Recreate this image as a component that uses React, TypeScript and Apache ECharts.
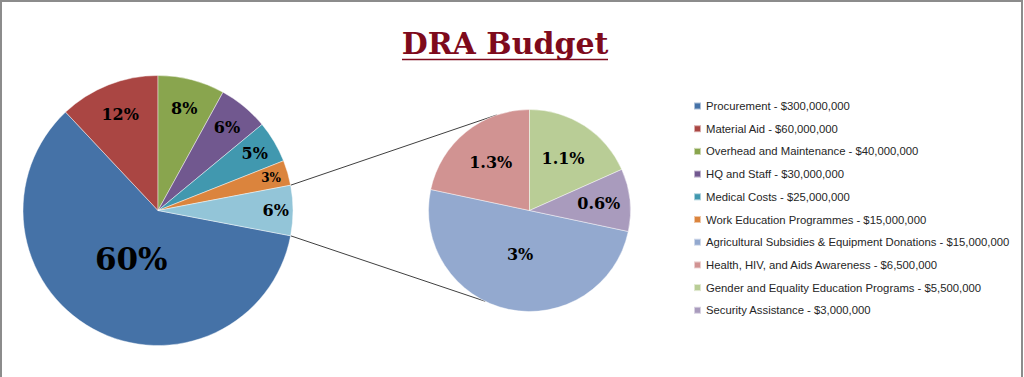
import React, { useEffect, useRef } from "react";
import * as echarts from "echarts";

// ---------- data ----------
const mainNames = [
  "Procurement",
  "Material Aid",
  "Overhead and Maintenance",
  "HQ and Staff",
  "Medical Costs",
  "Work Education Programmes",
];
const mainValues = [300000000, 60000000, 40000000, 30000000, 25000000, 15000000];
const subNames = [
  "Agricultural Subsidies & Equipment Donations",
  "Health, HIV, and Aids Awareness",
  "Gender and Equality Education Programs",
  "Security Assistance",
];
const subValues = [15000000, 6500000, 5500000, 3000000];
const otherName = "Other";
const titleText = "DRA Budget";

// ---------- style ----------
const mainColors = ["#4572A7", "#AA4643", "#89A54E", "#71588F", "#4198AF", "#DB843D"];
const otherColor = "#93C5D8";
const subColors = ["#93A9CF", "#D19392", "#B9CD96", "#A99BBD"];
const titleColor = "#7E0A1C";

const MAIN_C = [158, 210.5];
const MAIN_R = 135;
const SUB_C = [529.5, 210.5];
const SUB_R = 101;
// label placement (fraction of radius) and font size per slice
const mainLabelFrac = [0.39, 0.74, 0.76, 0.78, 0.81, 0.85, 0.85];
const mainLabelSize = [31, 16, 16, 16, 16, 12, 16];
const subLabelFrac = [0.42, 0.58, 0.58, 0.66];
const subLabelSize = [16, 16, 16, 16];
const SUB_LINK_ANGLES = [109, -116];
const LABEL_FONT = "DejaVu Serif";

const sum = (a: number[]) => a.reduce((s, v) => s + v, 0);
const fmtMoney = (v: number) => String(Math.round(v)).replace(/\B(?=(\d{3})+(?!\d))/g, ",");

export default function App() {
  const ref = useRef<HTMLDivElement>(null);
  useEffect(() => {
    if (!ref.current) return;
    const chart = echarts.init(ref.current, null, { renderer: "svg" });

    const otherValue = sum(subValues);
    const total = sum(mainValues) + otherValue;
    const pct = (v: number) => String(Math.round((v / total) * 1000) / 10) + "%";

    const mainData = mainNames
      .map((n, i) => ({ name: n, value: mainValues[i], color: mainColors[i] }))
      .concat([{ name: otherName, value: otherValue, color: otherColor }]);
    const subData = subNames.map((n, i) => ({ name: n, value: subValues[i], color: subColors[i] }));

    const mainStart = 90 + ((mainValues[0] + mainValues[1]) / total) * 360;
    const subStart = 90 + ((subValues[0] + subValues[1]) / otherValue) * 360;

    const valueMap: Record<string, number> = {};
    mainData.forEach((d) => (valueMap[d.name] = d.value));
    subData.forEach((d) => (valueMap[d.name] = d.value));

    const visible = (data: any[], center: number[], r: number, start: number) => ({
      type: "pie",
      center,
      radius: [0, r],
      startAngle: start,
      clockwise: true,
      silent: true,
      animation: false,
      label: { show: false },
      labelLine: { show: false },
      emphasis: { disabled: true },
      itemStyle: { borderColor: "rgba(255,255,255,0.55)", borderWidth: 0.8 },
      data: data.map((d) => ({ name: d.name, value: d.value, itemStyle: { color: d.color } })),
    });

    const overlay = (
      data: any[],
      center: number[],
      r: number,
      start: number,
      idx: number,
      frac: number,
      size: number
    ) => {
      const radius = frac < 0.5 ? [0, 2 * frac * r] : [(2 * frac - 1) * r, r];
      return {
        type: "pie",
        center,
        radius,
        startAngle: start,
        clockwise: true,
        silent: true,
        animation: false,
        z: 5,
        labelLine: { show: false },
        emphasis: { disabled: true },
        itemStyle: { color: "rgba(0,0,0,0)", borderWidth: 0 },
        label: {
          show: true,
          position: "inside",
          fontFamily: LABEL_FONT,
          fontWeight: "bold",
          fontSize: size,
          color: "#000",
          formatter: (p: any) => pct(p.value),
        },
        data: data.map((d, i) => ({
          name: d.name,
          value: d.value,
          label: { show: i === idx },
        })),
      };
    };

    const series: any[] = [
      visible(mainData, MAIN_C, MAIN_R, mainStart),
      visible(subData, SUB_C, SUB_R, subStart),
    ];
    mainData.forEach((_, i) =>
      series.push(overlay(mainData, MAIN_C, MAIN_R, mainStart, i, mainLabelFrac[i], mainLabelSize[i]))
    );
    subData.forEach((_, i) =>
      series.push(overlay(subData, SUB_C, SUB_R, subStart, i, subLabelFrac[i], subLabelSize[i]))
    );

    // connector lines
    const otherStart = mainStart - (sum(mainValues) / total) * 360;
    const otherEnd = otherStart - (otherValue / total) * 360;
    const pt = (c: number[], r: number, deg: number) => [
      c[0] + r * Math.cos((deg * Math.PI) / 180),
      c[1] - r * Math.sin((deg * Math.PI) / 180),
    ];
    const a1 = pt(MAIN_C, MAIN_R, otherStart);
    const a2 = pt(MAIN_C, MAIN_R, otherEnd);
    const b1 = pt(SUB_C, SUB_R, SUB_LINK_ANGLES[0]);
    const b2 = pt(SUB_C, SUB_R, SUB_LINK_ANGLES[1]);

    chart.setOption({
      animation: false,
      backgroundColor: "#ffffff",
      legend: {
        orient: "vertical",
        left: 693,
        top: 99,
        padding: 0,
        itemWidth: 7,
        itemHeight: 7,
        itemGap: 8.7,
        icon: "rect",
        selectedMode: false,
        data: [...mainNames, ...subNames],
        formatter: (name: string) => `${name} - $${fmtMoney(valueMap[name])}`,
        textStyle: {
          fontFamily: "Liberation Sans",
          fontSize: 11.3,
          lineHeight: 14,
          color: "#262626",
          padding: [0, 0, 0, 0],
        },
      },
      series,
      graphic: [
        {
          type: "rect",
          silent: true,
          shape: { x: 1, y: 1, width: 1021, height: 420 },
          style: { fill: "none", stroke: "#8c8c8c", lineWidth: 2 },
        },
        {
          type: "text",
          x: 505,
          y: 43,
          silent: true,
          style: {
            text: titleText,
            fill: titleColor,
            font: `bold 30px "${LABEL_FONT}"`,
            textAlign: "center",
            textVerticalAlign: "middle",
          },
        },
        {
          type: "line",
          silent: true,
          shape: { x1: 402, y1: 59.5, x2: 608, y2: 59.5 },
          style: { stroke: titleColor, lineWidth: 1.5 },
        },
        {
          type: "line",
          silent: true,
          shape: { x1: a1[0], y1: a1[1], x2: b1[0], y2: b1[1] },
          style: { stroke: "#404040", lineWidth: 1 },
        },
        {
          type: "line",
          silent: true,
          shape: { x1: a2[0], y1: a2[1], x2: b2[0], y2: b2[1] },
          style: { stroke: "#404040", lineWidth: 1 },
        },
      ],
    });
    return () => chart.dispose();
  }, []);
  return (
    <div
      ref={ref}
      style={{ position: "fixed", left: 0, top: 0, width: 1024, height: 377, background: "#fff" }}
    />
  );
}
